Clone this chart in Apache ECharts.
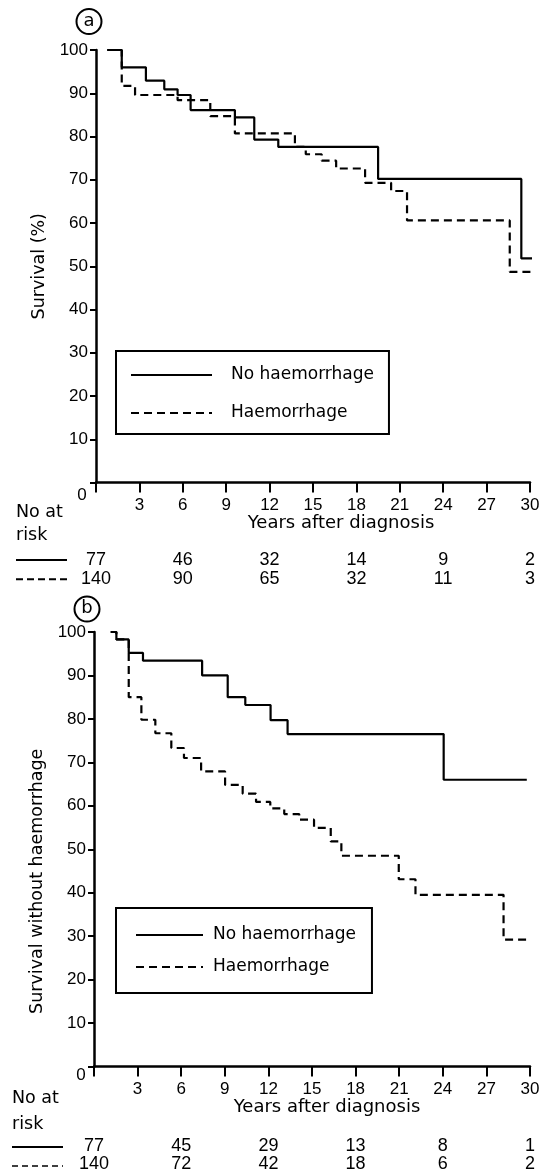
<!DOCTYPE html>
<html>
<head>
<meta charset="utf-8">
<script src="https://cdn.jsdelivr.net/npm/echarts@6/dist/echarts.min.js"></script>
<style>
html,body{margin:0;padding:0;background:#fff;}
#chart{width:550px;height:1173px;}
</style>
</head>
<body>
<div id="chart"></div>
<script>
// ---- Data (Kaplan-Meier step points: [years, survival %]) ----
const seriesNames = ['No haemorrhage', 'Haemorrhage'];
const xTicks = [0, 3, 6, 9, 12, 15, 18, 21, 24, 27, 30];

// Panel a: overall survival
const survA_noHaem = [[0.78,100],[1.78,96.0],[3.45,92.9],[4.72,90.9],[5.64,89.6],[6.54,86.1],[9.6,84.4],[10.94,79.3],[12.6,77.6],[19.5,70.2],[29.4,51.8],[30.6,51.8]];
const survA_haem = [[0.78,100],[1.78,91.7],[2.7,89.6],[5.64,88.4],[7.9,84.7],[9.6,80.7],[13.75,77.6],[14.5,75.9],[15.6,74.4],[16.6,72.6],[18.6,69.3],[20.4,67.4],[21.5,60.6],[28.6,48.7],[30.7,48.7]];

// Panel b: survival without haemorrhage
const survB_noHaem = [[1.15,100],[1.54,98.3],[2.39,95.2],[3.37,93.4],[7.44,90.0],[9.2,85.0],[10.41,83.2],[12.15,79.7],[13.32,76.5],[24.06,66.0],[29.78,66.0]];
const survB_haem = [[1.15,100],[1.54,98.3],[2.39,85.0],[3.26,79.8],[4.22,76.7],[5.32,73.3],[6.19,71.0],[7.37,67.9],[9.02,64.8],[10.23,62.8],[11.15,60.9],[12.13,59.4],[13.09,58.1],[14.12,56.8],[15.14,54.9],[16.29,51.8],[17.02,48.5],[20.97,43.1],[22.12,39.5],[28.18,29.2],[29.78,29.2]];

// Numbers at risk
const riskYears = [0, 6, 12, 18, 24, 30];
const riskA_noHaem = [77, 46, 32, 14, 9, 2];
const riskA_haem = [140, 90, 65, 32, 11, 3];
const riskB_noHaem = [77, 45, 29, 13, 8, 1];
const riskB_haem = [140, 72, 42, 18, 6, 2];
const riskRows = ['solid', 'dashed'];

// ---- Chart ----
const FONT = 'DejaVu Sans';
const NUMFONT = '"Liberation Sans", "DejaVu Sans"';
const chart = echarts.init(document.getElementById('chart'), null, {renderer: 'canvas'});

function xAx(grid, padLeft) {
  return {
    gridIndex: grid, type: 'value', min: 0, max: 30, interval: 3,
    axisLine: {show: true, lineStyle: {color: '#000', width: 2.5}},
    axisTick: {show: true, inside: false, length: 10, lineStyle: {color: '#000', width: 2}},
    axisLabel: {show: true, fontSize: 17, color: '#000', fontFamily: NUMFONT, margin: 14,
      formatter: v => (v === 0 ? '' : String(v))},
    splitLine: {show: false},
    name: 'Years after diagnosis', nameLocation: 'middle', nameGap: 32,
    nameTextStyle: {fontSize: 18, color: '#000', fontFamily: FONT, padding: [0, 0, 0, padLeft]}
  };
}
function yAx(grid, name, gap, pad) {
  return {
    gridIndex: grid, type: 'value', min: 0, max: 100, interval: 10,
    axisLine: {show: true, lineStyle: {color: '#000', width: 2.5}},
    axisTick: {show: true, length: 6, lineStyle: {color: '#000', width: 2}},
    axisLabel: {fontSize: 17, color: '#000', fontFamily: NUMFONT, margin: 8,
      formatter: v => (v === 0 ? '' : String(v))},
    splitLine: {show: false},
    name: name, nameLocation: 'middle', nameGap: gap, nameRotate: 90,
    nameTextStyle: {fontSize: 17.5, color: '#000', fontFamily: FONT, padding: pad}
  };
}
function hiddenX(grid) {
  return {gridIndex: grid, type: 'value', min: 0, max: 30, show: false};
}
function hiddenY(grid) {
  return {gridIndex: grid, type: 'category', data: riskRows, inverse: true, show: false};
}
function km(name, data, xi, dashed) {
  return {
    name: name, type: 'line', xAxisIndex: xi, yAxisIndex: xi, data: data,
    step: 'end', symbol: 'none', showSymbol: false, clip: false, animation: false,
    lineStyle: {color: '#000', width: 2.2, type: dashed ? [8, 5] : 'solid'},
    itemStyle: {color: '#000'}
  };
}
function riskSeries(idx, row, counts) {
  return {
    name: 'risk' + idx + row, type: 'scatter', xAxisIndex: idx, yAxisIndex: idx,
    data: riskYears.map((y, i) => [y, row, counts[i]]),
    symbolSize: 1, itemStyle: {color: 'rgba(0,0,0,0)', opacity: 1}, animation: false, silent: true,
    label: {show: true, position: 'inside', fontSize: 18, color: '#000', fontFamily: NUMFONT,
      textBorderWidth: 0, formatter: p => String(p.value[2])}
  };
}
function legendBox(left, top, pad, itemW, itemGap, textPad) {
  return {
    data: seriesNames, orient: 'vertical', left: left, top: top, padding: pad,
    borderColor: '#000', borderWidth: 2, borderRadius: 0,
    itemWidth: itemW, itemHeight: 20, itemGap: itemGap, selectedMode: false,
    itemStyle: {opacity: 0},
    textStyle: {fontSize: 17, color: '#000', fontFamily: FONT, lineHeight: 20, padding: [0, 0, 0, textPad]}
  };
}

const option = {
  backgroundColor: '#fff',
  animation: false,
  textStyle: {fontFamily: FONT},
  grid: [
    {left: 96, right: 20, top: 50, height: 432.5},
    {left: 94, right: 20, top: 632, height: 434.5},
    {left: 96, right: 20, top: 550.5, height: 38.6},
    {left: 94, right: 20, top: 1137.5, height: 38}
  ],
  xAxis: [xAx(0, 56), xAx(1, 30), hiddenX(2), hiddenX(3)],
  yAxis: [
    yAx(0, 'Survival (%)', 38, [0, 0, 0, 0]),
    yAx(1, 'Survival without haemorrhage', 46, [0, 64, 0, 0]),
    hiddenY(2), hiddenY(3)
  ],
  legend: [
    legendBox(116, 351, [14, 15, 11, 14], 81, 18, 14),
    legendBox(116, 908, [17, 16, 16, 19], 67, 12, 5)
  ],
  series: [
    km(seriesNames[0], survA_noHaem, 0, false),
    km(seriesNames[1], survA_haem, 0, true),
    km(seriesNames[0], survB_noHaem, 1, false),
    km(seriesNames[1], survB_haem, 1, true),
    riskSeries(2, riskRows[0], riskA_noHaem),
    riskSeries(2, riskRows[1], riskA_haem),
    riskSeries(3, riskRows[0], riskB_noHaem),
    riskSeries(3, riskRows[1], riskB_haem)
  ],
  graphic: [
    // panel labels
    {type: 'circle', shape: {cx: 89, cy: 21.5, r: 12.5}, style: {fill: 'none', stroke: '#000', lineWidth: 2}},
    {type: 'text', x: 89, y: 21, style: {text: 'a', font: '18px "DejaVu Sans"', fill: '#000', align: 'center', verticalAlign: 'middle'}},
    {type: 'circle', shape: {cx: 87, cy: 609, r: 12.5}, style: {fill: 'none', stroke: '#000', lineWidth: 2}},
    {type: 'text', x: 87, y: 608.5, style: {text: 'b', font: '18px "DejaVu Sans"', fill: '#000', align: 'center', verticalAlign: 'middle'}},
    // origin labels
    {type: 'text', x: 82, y: 495, style: {text: '0', font: '17px "Liberation Sans", "DejaVu Sans"', fill: '#000', align: 'center', verticalAlign: 'middle'}},
    {type: 'text', x: 81, y: 1075, style: {text: '0', font: '17px "Liberation Sans", "DejaVu Sans"', fill: '#000', align: 'center', verticalAlign: 'middle'}},
    // number at risk headers
    {type: 'text', x: 16, y: 512.6, style: {text: 'No at', font: '17.5px "DejaVu Sans"', fill: '#000', align: 'left', verticalAlign: 'middle'}},
    {type: 'text', x: 16, y: 535.4, style: {text: 'risk', font: '17.5px "DejaVu Sans"', fill: '#000', align: 'left', verticalAlign: 'middle'}},
    {type: 'text', x: 12, y: 1098, style: {text: 'No at', font: '17.5px "DejaVu Sans"', fill: '#000', align: 'left', verticalAlign: 'middle'}},
    {type: 'text', x: 12, y: 1124, style: {text: 'risk', font: '17.5px "DejaVu Sans"', fill: '#000', align: 'left', verticalAlign: 'middle'}},
    // line keys of number at risk rows
    {type: 'line', shape: {x1: 16, y1: 560, x2: 67, y2: 560}, style: {stroke: '#000', lineWidth: 2}},
    {type: 'line', shape: {x1: 16, y1: 579.3, x2: 67, y2: 579.3}, style: {stroke: '#000', lineWidth: 2, lineDash: [7, 4]}},
    {type: 'line', shape: {x1: 12, y1: 1147, x2: 63, y2: 1147}, style: {stroke: '#000', lineWidth: 2}},
    {type: 'line', shape: {x1: 12, y1: 1166, x2: 63, y2: 1166}, style: {stroke: '#000', lineWidth: 1.5, lineDash: [6, 4]}}
  ]
};
chart.setOption(option);
</script>
</body>
</html>
